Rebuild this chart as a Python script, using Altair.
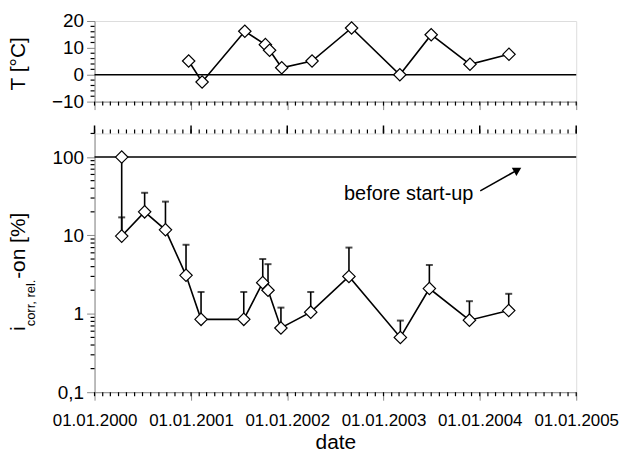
import altair as alt
import pandas as pd

FONT = "Liberation Sans"

# Air temperature at each inspection date
t_dates = ["2000-12-23", "2001-02-12", "2001-07-24", "2001-10-10", "2001-10-26", "2001-12-11",
           "2002-04-05", "2002-09-02", "2003-03-04", "2003-07-01", "2003-11-25", "2004-04-21"]
t_values = [5.1, -2.7, 16.2, 11.2, 9.1, 2.6, 5.1, 17.4, 0.0, 14.9, 3.9, 7.6]

# Relative corrosion current density (mean value and upper scatter limit)
i_dates = ["2000-04-13", "2000-04-13", "2000-07-09", "2000-09-26", "2000-12-13", "2001-02-08",
           "2001-07-20", "2001-09-30", "2001-10-20", "2001-12-08", "2002-03-31", "2002-08-23",
           "2003-03-06", "2003-06-24", "2003-11-23", "2004-04-20"]
i_values = [100, 9.8, 20, 11.8, 3.1, 0.85, 0.85, 2.5, 2.0, 0.66, 1.05, 3.0, 0.5, 2.1, 0.83, 1.1]
i_upper = [None, 17, 35, 27, 7.6, 1.9, 1.9, 5.0, 4.3, 1.2, 1.9, 7.0, 0.82, 4.2, 1.45, 1.8]

# Axis ticks
years = [2000, 2001, 2002, 2003, 2004, 2005]
t_major = [-10, 0, 10, 20]
t_minor = [-8, -6, -4, -2, 2, 4, 6, 8, 12, 14, 16, 18]
i_major = [0.1, 1, 10, 100]
i_minor = [m * 10 ** e for e in (-1, 0, 1) for m in range(2, 10)] + [200]

# Annotation
note_text = "before start-up"
note_pos = {"date": "2003-12-08", "v": 28.6}
arrow_from = {"date": "2004-01-03", "v": 37.0}
arrow_head = {"date": "2004-05-24", "v": 68.7}

t_df = pd.DataFrame({"date": t_dates, "T": t_values})
i_df = pd.DataFrame({"date": i_dates, "v": i_values, "up": i_upper, "idx": range(len(i_dates))})
err_df = i_df.dropna(subset=["up"])
month_df = pd.DataFrame({"m": pd.date_range("2000-01-01", "2005-01-01", freq="MS").strftime("%Y-%m-%d")})
year_df = pd.DataFrame({"m": [f"{y}-01-01" for y in years]})

W, H_TOP, H_BOT = 484, 81, 260
LEFT, TOP = 94, 19  # room for the axis labels and titles
LW = 1.6

year_vals = [alt.DateTime(year=y, month=1, date=1, utc=True) for y in years]
xs = alt.Scale(type="utc", domain=[year_vals[0], year_vals[-1]])

# ---------- temperature panel ----------
x_axis_top = alt.Axis(values=year_vals, labels=False, tickSize=8, title=None, grid=False)
y_axis_t = alt.Axis(values=t_major, tickSize=8, labelFontSize=19, labelPadding=3,
                    title="T [°C]", titleFontSize=21, titleFontWeight="normal",
                    titleX=-70, titleY=H_TOP / 2 + 2, titleAngle=270, titleAlign="center",
                    titleBaseline="alphabetic", grid=False)
ys_t = alt.Scale(domain=[-10, 20], nice=False, zero=False)

zero_line = alt.Chart(pd.DataFrame({"T": [0]})).mark_rule(color="black", strokeWidth=LW).encode(
    y=alt.Y("T:Q", scale=ys_t, axis=y_axis_t))
t_line = alt.Chart(t_df).mark_line(color="black", strokeWidth=LW).encode(
    x=alt.X("date:T", scale=xs, axis=x_axis_top),
    y=alt.Y("T:Q", scale=ys_t, axis=y_axis_t))
t_pts = alt.Chart(t_df).mark_point(shape="diamond", filled=True, fill="white", stroke="black",
                                   strokeWidth=1.2, size=155, opacity=1).encode(
    x=alt.X("date:T", scale=xs, axis=x_axis_top),
    y=alt.Y("T:Q", scale=ys_t, axis=y_axis_t))
t_xminor = alt.Chart(month_df).mark_rule(color="black", strokeWidth=1.2).encode(
    x=alt.X("m:T", scale=xs, axis=x_axis_top), y=alt.value(H_TOP), y2=alt.value(H_TOP + 4))
t_yminor = alt.Chart(pd.DataFrame({"T": t_minor})).mark_rule(color="black", strokeWidth=1.2).encode(
    y=alt.Y("T:Q", scale=ys_t, axis=y_axis_t), x=alt.value(0), x2=alt.value(-4))
# invisible anchor fixing the top-left corner of the whole figure
anchor = alt.Chart(pd.DataFrame({"a": [0]})).mark_rule(strokeWidth=0.01, opacity=0).encode(
    x=alt.value(-LEFT), y=alt.value(-TOP), y2=alt.value(-TOP + 1))

top = alt.layer(zero_line, t_line, t_pts, t_xminor, t_yminor, anchor).properties(width=W, height=H_TOP)

# ---------- corrosion current panel ----------
x_axis_bot = alt.Axis(values=year_vals, tickSize=8, labelFontSize=17, labelPadding=25,
                      labelBaseline="alphabetic", labelExpr="utcFormat(datum.value, '%d.%m.%Y')",
                      labelOverlap=False, labelFlush=False,
                      title="date", titleFontSize=21, titleFontWeight="normal",
                      titleY=57, titleBaseline="alphabetic", grid=False)
y_axis_i = alt.Axis(values=i_major, tickSize=8, labelFontSize=19, labelPadding=3,
                    labelExpr="replace(format(datum.value, '~g'), '.', ',')", title=None, grid=False)
ys_i = alt.Scale(type="log", domain=[0.1, 200], nice=False)

def bx(field="date"):
    return alt.X(f"{field}:T", scale=xs, axis=x_axis_bot)

def by(field):
    return alt.Y(f"{field}:Q", scale=ys_i, axis=y_axis_i)

ref_line = alt.Chart(pd.DataFrame({"v": [100]})).mark_rule(color="black", strokeWidth=LW).encode(y=by("v"))
err = alt.Chart(err_df).mark_rule(color="black", strokeWidth=LW).encode(x=bx(), y=by("v"), y2="up:Q")
caps = alt.Chart(err_df).mark_tick(orient="horizontal", color="black", size=7, thickness=2).encode(
    x=bx(), y=by("up"))
i_line = alt.Chart(i_df).mark_line(color="black", strokeWidth=LW).encode(
    x=bx(), y=by("v"), order="idx:Q")
i_pts = alt.Chart(i_df).mark_point(shape="diamond", filled=True, fill="white", stroke="black",
                                   strokeWidth=1.2, size=155, opacity=1).encode(x=bx(), y=by("v"))

note = alt.Chart(pd.DataFrame([{**note_pos, "t": note_text}])).mark_text(
    font=FONT, fontSize=20, align="right", baseline="alphabetic", color="black").encode(
    x=bx(), y=by("v"), text="t:N")
shaft = alt.Chart(pd.DataFrame([arrow_from, arrow_head])).mark_line(color="black", strokeWidth=LW).encode(
    x=bx(), y=by("v"))
head = alt.Chart(pd.DataFrame([arrow_head])).mark_point(
    shape="triangle-right", filled=True, color="black", size=90, angle=331, opacity=1).encode(
    x=bx(), y=by("v"))

b_xminor_bot = alt.Chart(month_df).mark_rule(color="black", strokeWidth=1.2).encode(
    x=bx("m"), y=alt.value(H_BOT), y2=alt.value(H_BOT + 4))
b_xminor_top = alt.Chart(month_df).mark_rule(color="black", strokeWidth=1.2).encode(
    x=bx("m"), y=alt.value(0), y2=alt.value(-4))
b_xmajor_top = alt.Chart(year_df).mark_rule(color="black", strokeWidth=1.5).encode(
    x=bx("m"), y=alt.value(0), y2=alt.value(-8))
b_yminor = alt.Chart(pd.DataFrame({"v": i_minor})).mark_rule(color="black", strokeWidth=1.2).encode(
    y=by("v"), x=alt.value(0), x2=alt.value(-4))

# y title: i with subscript "corr, rel." followed by "-on [%]"
def title_piece(txt, size, x, y):
    return alt.Chart(pd.DataFrame({"t": [txt]})).mark_text(
        font=FONT, fontSize=size, angle=270, align="left", baseline="alphabetic", color="black").encode(
        x=alt.value(x), y=alt.value(y), text="t:N")

ttl_i = title_piece("i", 21, -70, 198.5)
ttl_sub = title_piece("corr, rel.", 13, -60, 193.8)
ttl_on = title_piece("-on [%]", 21, -70, 146.1)

bottom = alt.layer(ref_line, err, caps, i_line, i_pts, note, shaft, head,
                   b_xminor_bot, b_xminor_top, b_xmajor_top, b_yminor,
                   ttl_i, ttl_sub, ttl_on).properties(width=W, height=H_BOT)

chart = alt.vconcat(top, bottom, spacing=11).properties(
    padding=0,
).configure_view(
    stroke="black", strokeWidth=1.8
).configure_axis(
    domainColor="black", domainWidth=1.8, tickColor="black", tickWidth=1.5,
    labelColor="black", titleColor="black", labelFont=FONT, titleFont=FONT
).configure(background="white")

chart.save("out.html", embed_options={"renderer": "svg", "actions": False})
